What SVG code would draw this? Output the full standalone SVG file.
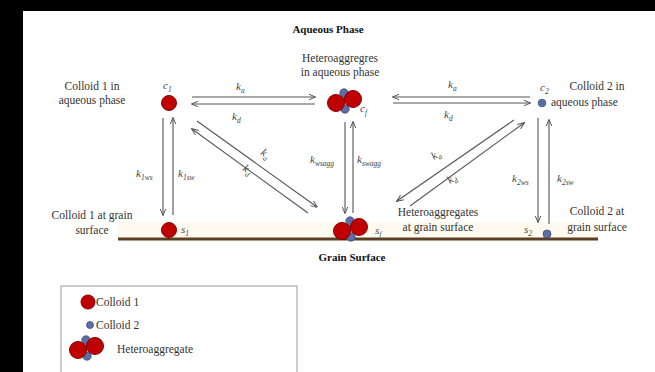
<svg xmlns="http://www.w3.org/2000/svg" width="655" height="372" viewBox="0 0 655 372">
<style>
text{font-family:"Liberation Serif","Times New Roman",serif;font-size:11.5px;fill:#333}
.b{font-weight:bold;fill:#111;font-size:11px}
.k{font-style:italic;font-size:11px;fill:#444}
.s{font-size:7.5px}
.ln{stroke:#555;stroke-width:1.1;fill:none;marker-end:url(#ah)}
.r{fill:#c00000;stroke:#8a0000;stroke-width:1}
.bl{fill:#5b6fa6;stroke:#3d4f80;stroke-width:0.8}
</style>
<defs>
<marker id="ah" viewBox="0 0 10 10" refX="9" refY="5" markerWidth="7" markerHeight="7" orient="auto" markerUnits="userSpaceOnUse">
<path d="M0,1 L10,5 L0,9" fill="none" stroke="#555" stroke-width="1.4"/>
</marker>
<g id="het">
<circle class="bl" cx="0" cy="-8" r="4.2"/>
<circle class="bl" cx="1" cy="8" r="4.2"/>
<circle class="bl" cx="-2" cy="0" r="3.5"/>
<circle class="r" cx="-8" cy="2" r="8.5"/>
<circle class="r" cx="9" cy="-2" r="8.5"/>
</g>
</defs>
<rect x="0" y="0" width="655" height="372" fill="#000"/>
<rect x="23" y="11" width="632" height="361" fill="#fff"/>
<rect x="118" y="222" width="480" height="16" fill="#fffaf0"/>
<line x1="118" y1="239" x2="598" y2="239" stroke="#5c3f22" stroke-width="3"/>
<text class="b" x="328" y="33" text-anchor="middle">Aqueous Phase</text>
<text class="b" x="352" y="261" text-anchor="middle">Grain Surface</text>

<g id="connectors">
<line class="ln" x1="192" y1="97" x2="315" y2="97"/>
<line class="ln" x1="315" y1="104" x2="192" y2="104"/>
<line class="ln" x1="530" y1="97" x2="393" y2="97"/>
<line class="ln" x1="393" y1="103" x2="530" y2="103"/>
<line class="ln" x1="163" y1="118" x2="163" y2="215"/>
<line class="ln" x1="173" y1="215" x2="173" y2="118"/>
<line class="ln" x1="345" y1="122" x2="345" y2="213"/>
<line class="ln" x1="353" y1="213" x2="353" y2="122"/>
<line class="ln" x1="538" y1="118" x2="538" y2="222"/>
<line class="ln" x1="549" y1="224" x2="549" y2="120"/>
<line class="ln" x1="197" y1="121" x2="317" y2="207"/>
<line class="ln" x1="308" y1="213" x2="192" y2="129"/>
<line class="ln" x1="410" y1="206" x2="524" y2="123"/>
<line class="ln" x1="514" y1="120" x2="397" y2="201"/>
<text class="k" x="236" y="90">k<tspan class="s" dy="3">a</tspan></text>
<text class="k" x="232" y="120">k<tspan class="s" dy="3">d</tspan></text>
<text class="k" x="448" y="88">k<tspan class="s" dy="3">a</tspan></text>
<text class="k" x="444" y="118">k<tspan class="s" dy="3">d</tspan></text>
<text class="k" x="136" y="177">k<tspan class="s" dy="3">1ws</tspan></text>
<text class="k" x="178" y="177">k<tspan class="s" dy="3">1sw</tspan></text>
<text class="k" x="310" y="163">k<tspan class="s" dy="3">wsagg</tspan></text>
<text class="k" x="357" y="163">k<tspan class="s" dy="3">swagg</tspan></text>
<text class="k" x="512" y="182">k<tspan class="s" dy="3">2ws</tspan></text>
<text class="k" x="557" y="182">k<tspan class="s" dy="3">2sw</tspan></text>
<text class="k" transform="translate(260,154) rotate(36)">k<tspan class="s" dy="3">a</tspan></text>
<text class="k" transform="translate(242,170) rotate(36)">k<tspan class="s" dy="3">d</tspan></text>
<text class="k" transform="translate(434,160) rotate(-34)">k<tspan class="s" dy="3">a</tspan></text>
<text class="k" transform="translate(450,184) rotate(-34)">k<tspan class="s" dy="3">d</tspan></text>
</g>

<g id="colloid1-aq">
<text x="92" y="90" text-anchor="middle">Colloid 1 in</text>
<text x="92" y="104" text-anchor="middle">aqueous phase</text>
<text class="k" x="163" y="89">c<tspan class="s" dy="3">1</tspan></text>
<circle class="r" cx="169" cy="103" r="7.5"/>
</g>

<g id="hetero-aq">
<text x="340" y="62" text-anchor="middle">Heteroaggregres</text>
<text x="340" y="76" text-anchor="middle">in aqueous phase</text>
<use href="#het" x="344" y="101"/>
<text class="k" x="360" y="112">c<tspan class="s" dy="3">f</tspan></text>
</g>

<g id="colloid2-aq">
<text class="k" x="540" y="91">c<tspan class="s" dy="3">2</tspan></text>
<circle class="bl" cx="542" cy="103" r="3.8"/>
<text x="597" y="90" text-anchor="middle">Colloid 2 in</text>
<text x="551" y="106">aqueous phase</text>
</g>

<g id="colloid1-grain">
<text x="92" y="219" text-anchor="middle">Colloid 1 at grain</text>
<text x="92" y="234" text-anchor="middle">surface</text>
<circle class="r" cx="169" cy="230" r="7.5"/>
<text class="k" x="181" y="233">s<tspan class="s" dy="3">1</tspan></text>
</g>

<g id="hetero-grain">
<use href="#het" x="350" y="229"/>
<text class="k" x="375" y="234">s<tspan class="s" dy="3">f</tspan></text>
<text x="438" y="216" text-anchor="middle">Heteroaggregates</text>
<text x="438" y="231" text-anchor="middle">at grain surface</text>
</g>

<g id="colloid2-grain">
<text class="k" x="524" y="233">s<tspan class="s" dy="3">2</tspan></text>
<circle class="bl" cx="547" cy="234" r="4"/>
<text x="597" y="215" text-anchor="middle">Colloid 2 at</text>
<text x="597" y="231" text-anchor="middle">grain surface</text>
</g>

<g id="legend">
<rect x="61" y="286" width="236" height="100" fill="#fff" stroke="#9a9a9a" stroke-width="1"/>
<circle class="r" cx="88" cy="302" r="7"/>
<text x="96" y="306">Colloid 1</text>
<circle class="bl" cx="90" cy="325" r="3.5"/>
<text x="96" y="329">Colloid 2</text>
<use href="#het" x="86" y="348"/>
<text x="117" y="353">Heteroaggregate</text>
</g>
</svg>
